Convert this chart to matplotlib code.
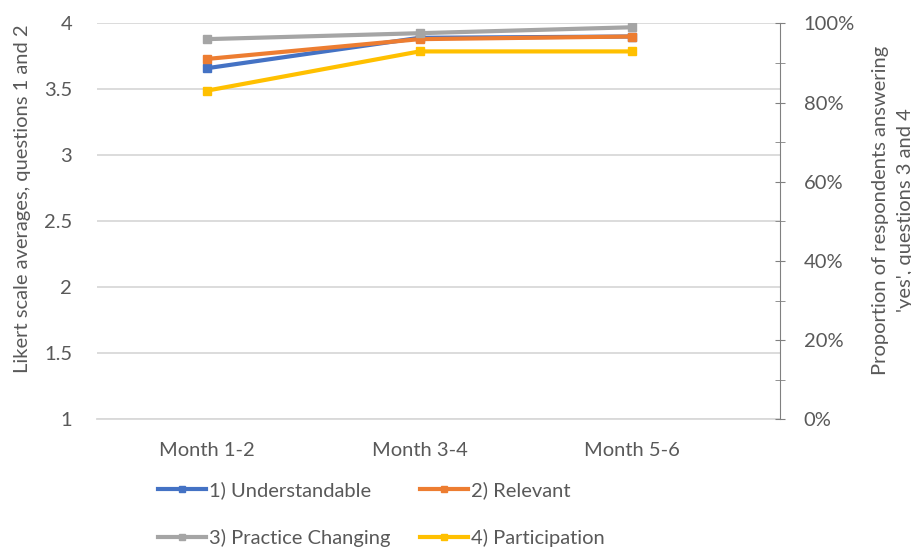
import matplotlib.pyplot as plt
from matplotlib.ticker import MultipleLocator, PercentFormatter

plt.rcParams["font.family"] = ["Lato", "DejaVu Sans"]

months = ["Month 1-2", "Month 3-4", "Month 5-6"]
understandable = [3.66, 3.89, 3.90]
relevant = [3.73, 3.88, 3.90]
practice_changing = [0.96, 0.975, 0.99]
participation = [0.83, 0.929, 0.929]

text_col = "#595959"
fs = 14.5

fig = plt.figure(figsize=(9.11, 5.47), dpi=100)
ax = fig.add_axes([0.1065, 0.2334, 0.7495, 0.724])
ax2 = ax.twinx()

x = range(len(months))
l1, = ax.plot(x, understandable, color="#4472C4", lw=3, marker="s", ms=5.5, label="1) Understandable")
l2, = ax.plot(x, relevant, color="#ED7D31", lw=3, marker="s", ms=5.5, label="2) Relevant")
l3, = ax2.plot(x, practice_changing, color="#A5A5A5", lw=3, marker="s", ms=5.5, label="3) Practice Changing")
l4, = ax2.plot(x, participation, color="#FFC000", lw=3, marker="s", ms=5.5, label="4) Participation")

ax.set_xlim(-0.518, 2.696)
ax.set_ylim(1, 4)
ax.yaxis.set_major_locator(MultipleLocator(0.5))
ax.yaxis.set_major_formatter(lambda v, p: f"{v:g}")
ax.grid(axis="y", color="#d9d9d9", lw=1.3)
ax.set_axisbelow(True)
ax.set_xticks(list(x))
ax.set_xticklabels(months)
ax.tick_params(axis="both", length=0, labelsize=fs, labelcolor=text_col)
ax.tick_params(axis="x", pad=16)
ax.tick_params(axis="y", pad=18)
for s in ["top", "left", "right"]:
    ax.spines[s].set_visible(False)
ax.spines["bottom"].set_color("#d9d9d9")
ax.spines["bottom"].set_linewidth(1.3)
ax.set_ylabel("Likert scale averages, questions 1 and 2", fontsize=fs, color=text_col)
ax.yaxis.set_label_coords(-0.096, 0.556)

ax2.set_ylim(0, 1)
ax2.yaxis.set_major_locator(MultipleLocator(0.2))
ax2.yaxis.set_minor_locator(MultipleLocator(0.1))
ax2.yaxis.set_major_formatter(PercentFormatter(1.0, decimals=0))
for s in ["top", "left", "bottom"]:
    ax2.spines[s].set_visible(False)
ax2.spines["right"].set_color("#808080")
ax2.tick_params(axis="y", which="both", direction="inout", length=7.5, color="#808080",
                labelsize=fs, labelcolor=text_col, pad=13.5)
ax2.set_ylabel("Proportion of respondents answering\n'yes', questions 3 and 4",
               fontsize=fs, color=text_col, linespacing=1.55)
ax2.yaxis.set_label_coords(1.135, 0.528)

# row-wise order in a 2-column legend
fig.legend(handles=[l1, l3, l2, l4], ncol=2, loc="upper left",
           bbox_to_anchor=(158 / 911, 1 - 481 / 547), frameon=False,
           fontsize=fs, labelcolor=text_col, borderpad=0, borderaxespad=0,
           handlelength=2.4, handletextpad=0.15, columnspacing=1.45, labelspacing=1.5,
           markerscale=0.75)

fig.savefig("out.png", dpi=100)
